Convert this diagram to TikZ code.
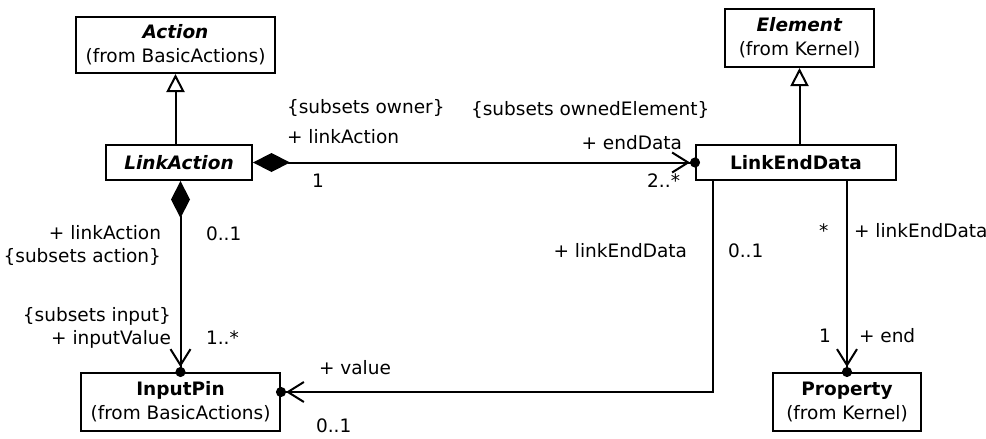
\documentclass[tikz,border=0pt]{standalone}
\usepackage{fontspec}
\setmainfont{DejaVu Sans}
\usepackage{tikz}
\usetikzlibrary{arrows.meta, positioning, calc}

\begin{document}
\begin{tikzpicture}[
    x=1pt, y=-1pt,
    line width=2pt,
    font=\fontsize{18.5}{23}\selectfont,
    cls/.style={draw, rectangle, inner sep=0pt, align=center, fill=white,
                font=\fontsize{18.5}{24}\selectfont},
    gen/.style={-{Triangle[open, length=18pt, width=18pt, fill=white]}},
    nav/.style={-{Straight Barb[length=16pt, width=20pt] Circle[length=10pt, sep=-5pt]}},
    comp/.style={{Diamond[length=37pt, width=19pt]}-{Straight Barb[length=16pt, width=20pt] Circle[length=10pt, sep=-5pt]}},
    role/.style={inner sep=0pt, align=right},
]
\useasboundingbox (0,0) rectangle (986,439);

% --- Classes ---
\node[cls, minimum width=199pt, minimum height=56pt] (action) at (175.5, 45)
    {\textbf{\textit{Action}}\\(from BasicActions)};
\node[cls, minimum width=146pt, minimum height=35pt] (linkaction) at (179, 162.5)
    {\textbf{\textit{LinkAction}}};
\node[cls, minimum width=149pt, minimum height=58pt] (element) at (799.5, 38)
    {\textbf{\textit{Element}}\\(from Kernel)};
\node[cls, minimum width=200pt, minimum height=35pt] (linkenddata) at (796, 162.5)
    {\textbf{LinkEndData}};
\node[cls, minimum width=199pt, minimum height=58pt] (inputpin) at (180.5, 402)
    {\textbf{InputPin}\\(from BasicActions)};
\node[cls, minimum width=148pt, minimum height=58pt] (property) at (847, 402)
    {\textbf{Property}\\(from Kernel)};

% --- Generalizations ---
\draw[gen] (action.south |- linkaction.north) -- (action.south);
\draw[gen] (element.south |- linkenddata.north) -- (element.south);

% --- Associations ---
\draw[comp] (linkaction.east) -- (linkenddata.west);
\draw[comp] (linkaction.south -| inputpin.north) -- (inputpin.north);
\draw[nav] ([xshift=-83pt]linkenddata.south) |- ([yshift=10pt]inputpin.east);
\draw[nav] (linkenddata.south -| property.north) -- (property.north);

% --- Role names and multiplicities ---
\node[role, anchor=west] (ownersub) at (286, 108) {\{subsets owner\}};
\node[role, anchor=west] (ownerrole) at (286, 137) {+ linkAction};
\node[role, anchor=west] (ownermult) at (311, 181) {1};
\node[role, anchor=west] (elemsub) at (470, 110) {\{subsets ownedElement\}};
\node[role, anchor=east] (endrole) at (683, 143) {+ endData};
\node[role, anchor=east] (endmult) at (681, 181) {2..*};

\node[role, anchor=east] (actionrole) at (162, 245) {+ linkAction\\\{subsets action\}};
\node[role, anchor=west] (actionmult) at (205, 234) {0..1};
\node[role, anchor=east] (inputrole) at (172, 328) {\{subsets input\}\\+ inputValue};
\node[role, anchor=west] (inputmult) at (205, 338) {1..*};

\node[role, anchor=west] (valuerole) at (318, 368) {+ value};
\node[role, anchor=west] (valuemult) at (315, 426) {0..1};
\node[role, anchor=east] (ledrole) at (688, 251) {+ linkEndData};
\node[role, anchor=west] (ledmult) at (727, 251) {0..1};

\node[role, anchor=west] (propmult) at (818, 231) {*};
\node[role, anchor=west] (proprole) at (853, 231) {+ linkEndData};
\node[role, anchor=west] (endpmult) at (818, 336) {1};
\node[role, anchor=west] (endprole) at (858, 336) {+ end};

\end{tikzpicture}
\end{document}
